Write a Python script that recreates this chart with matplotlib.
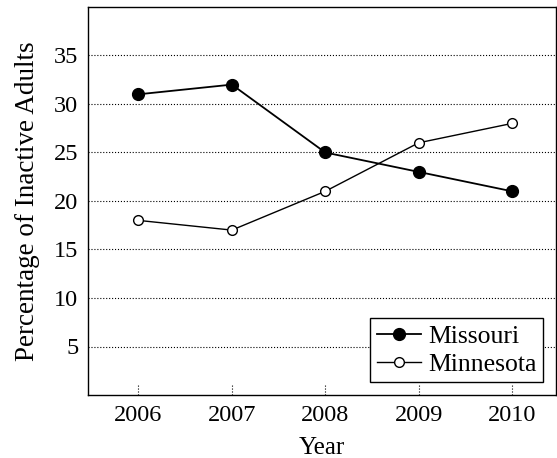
import matplotlib.pyplot as plt

years = [2006, 2007, 2008, 2009, 2010]
missouri = [31, 32, 25, 23, 21]
minnesota = [18, 17, 21, 26, 28]
yticks = [5, 10, 15, 20, 25, 30, 35]

plt.rcParams['font.family'] = ['Liberation Serif', 'DejaVu Serif']

fig = plt.figure(figsize=(5.57, 4.58), dpi=100)
ax = fig.add_axes([88 / 557, 1 - 395 / 458, 468 / 557, 388 / 458])

ax.plot(years, missouri, color='black', lw=1.3, marker='o', ms=8.5,
        label='Missouri')
ax.plot(years, minnesota, color='black', lw=1.0, marker='o', ms=7,
        mfc='white', mew=1.0, label='Minnesota')

ax.set_xlim(2005.46, 2010.47)
ax.set_ylim(0, 40)
ax.set_xticks(years)
ax.set_yticks(yticks)
ax.tick_params(length=0, labelsize=17.5, pad=7)
ax.grid(axis='y', linestyle=':', color='black', lw=0.8)
ax.vlines(years, 0, 1, linestyles=':', colors='black', lw=0.8)

for s in ax.spines.values():
    s.set_linewidth(1.0)

ax.set_xlabel('Year', fontsize=18, labelpad=8)
ax.set_ylabel('Percentage of Inactive Adults', fontsize=19.5, labelpad=10)

leg = ax.legend(loc='lower right', fontsize=18.5, frameon=True, fancybox=False,
                edgecolor='black', framealpha=1, borderaxespad=0.5,
                handlelength=1.7, handletextpad=0.3, labelspacing=0.2,
                borderpad=0.25)
leg.get_frame().set_linewidth(1.0)

fig.savefig('out.png', dpi=100)
